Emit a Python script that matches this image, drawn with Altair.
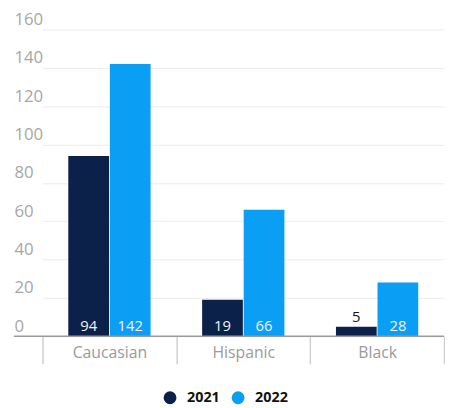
import altair as alt
import pandas as pd

categories = ["Caucasian", "Hispanic", "Black"]
years = ["2021", "2022"]
values_2021 = [94, 19, 5]
values_2022 = [142, 66, 28]
y_ticks = [0, 20, 40, 60, 80, 100, 120, 140, 160]

rows = []
for c, v1, v2 in zip(categories, values_2021, values_2022):
    rows.append({"group": c, "year": "2021", "value": v1})
    rows.append({"group": c, "year": "2022", "value": v2})
df = pd.DataFrame(rows)

FONT = "Open Sans"
W, H = 436, 311

xscale = alt.Scale(domain=categories, range=[29, W], paddingInner=0, paddingOuter=0)
xoff = alt.Scale(domain=years, paddingInner=0.02, paddingOuter=0.62)
yscale = alt.Scale(domain=[0, 160], nice=False)
color_scale = alt.Scale(domain=years, range=["#0c2149", "#0b9ef5"])

x_axis = alt.Axis(title=None, domain=False, tickBand="extent", tickSize=28,
                  tickColor="#cfcfcf", tickWidth=1.5, labelPadding=-19,
                  labelFontSize=16, labelColor="#9a9a9a", labelFont=FONT,
                  labelAngle=0, grid=False)
y_axis = alt.Axis(title=None, values=y_ticks, domain=False, ticks=False,
                  labelAlign="left", labelPadding=0, labelBaseline="alphabetic",
                  labelOffset=-5, labelFontSize=17, labelColor="#a6a6a6",
                  labelFont=FONT, labelOverlap=False, labelFlush=False,
                  gridColor="#ececec", gridWidth=1)

base = alt.Chart(df)

bars = base.mark_bar().encode(
    x=alt.X("group:N", scale=xscale, sort=categories, axis=x_axis),
    xOffset=alt.XOffset("year:N", scale=xoff),
    y=alt.Y("value:Q", scale=yscale, axis=y_axis),
    color=alt.Color("year:N", scale=color_scale,
                    legend=alt.Legend(title=None, orient="none", legendX=151, legendY=366,
                                      direction="horizontal", symbolType="circle",
                                      symbolSize=170, symbolStrokeWidth=0,
                                      labelFontSize=14.5, labelFontWeight="bold",
                                      labelColor="#111111", labelFont=FONT,
                                      labelOffset=10, columnPadding=11)),
)

labels = base.transform_calculate(
    ly="datum.value < 10 ? datum.value : 0"
).mark_text(baseline="alphabetic", dy=-5, fontSize=15, font=FONT).encode(
    x=alt.X("group:N", scale=xscale, sort=categories, axis=x_axis),
    xOffset=alt.XOffset("year:N", scale=xoff),
    y=alt.Y("ly:Q", scale=yscale, axis=y_axis),
    text=alt.Text("value:Q"),
    color=alt.condition("datum.value < 10", alt.value("#111111"), alt.value("#f2f2f2")),
)

zero = alt.Chart(pd.DataFrame({"z": [0]})).mark_rule(color="#9a9a9a", strokeWidth=1.5).encode(
    y=alt.Y("z:Q", scale=yscale, axis=y_axis)
)

chart = alt.layer(bars, zero, labels).properties(
    width=W, height=H, background="white",
    padding={"left": 5, "top": 0, "right": 0, "bottom": 0},
).configure_view(stroke=None)

chart.save("out.html", embed_options={"renderer": "svg", "actions": False})
